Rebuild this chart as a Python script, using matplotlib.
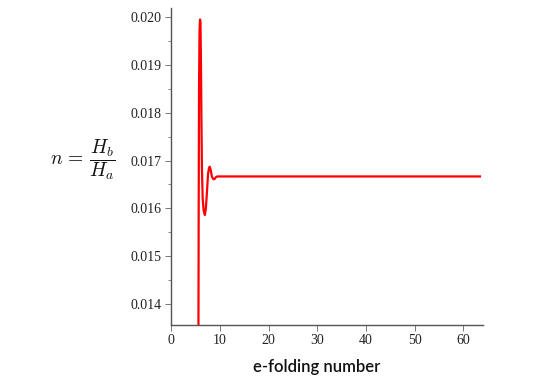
import matplotlib
matplotlib.use("Agg")
import matplotlib.pyplot as plt
from matplotlib.ticker import MultipleLocator, FormatStrFormatter

# e-folding number (x) and n = H_b/H_a (y)
efold = [5.62, 5.68, 5.75, 5.85, 5.95, 6.05, 6.15, 6.25, 6.35, 6.5, 6.7, 6.95,
         7.15, 7.35, 7.6, 7.8, 7.95, 8.15, 8.4, 8.7, 8.9, 9.2, 9.5, 63.6]
n_ratio = [0.0130, 0.0160, 0.0185, 0.0197, 0.01995, 0.0199, 0.0190, 0.0178,
           0.0168, 0.0162, 0.01595, 0.01586, 0.0160, 0.0163, 0.01672, 0.01685,
           0.01687, 0.0168, 0.01666, 0.01661, 0.01661, 0.01665, 0.016667, 0.016667]

xticks = [0, 10, 20, 30, 40, 50, 60]
yticks = [0.014, 0.015, 0.016, 0.017, 0.018, 0.019, 0.020]

plt.rcParams["mathtext.fontset"] = "cm"
fig = plt.figure(figsize=(5.4, 3.82), dpi=100)
ax = fig.add_axes([171/540, 1-325/382, (483-171)/540, (325-8)/382])

ax.plot(efold, n_ratio, color="#ff0000", lw=1.6, solid_capstyle="butt")
ax.set_xlim(0, 64)
ax.set_ylim(0.01356, 0.02019)
ax.set_xticks(xticks)
ax.set_yticks(yticks)
ax.yaxis.set_minor_locator(MultipleLocator(0.0005))
ax.yaxis.set_major_formatter(FormatStrFormatter("%.3f"))

for s in ["top", "right"]:
    ax.spines[s].set_visible(False)
for s in ["left", "bottom"]:
    ax.spines[s].set_color("#555555")
    ax.spines[s].set_linewidth(1.0)

ax.tick_params(axis="both", which="major", length=4.5, width=0.7, color="#777777",
               labelsize=10, labelcolor="#222222", pad=2)
ax.tick_params(axis="y", which="minor", length=2.2, width=0.6, color="#777777")
for lab in ax.get_xticklabels() + ax.get_yticklabels():
    lab.set_fontfamily("Liberation Serif")

fig.text(317/540, 1-367/382, "e-folding number", ha="center", va="center",
         fontsize=12, family="Lato", fontweight="semibold", color="#111111")
fig.text(83/540, 1-160/382, r"$n\, =\, \dfrac{H_b}{H_a}$", ha="center", va="center",
         fontsize=14, color="#111111")

fig.savefig("out.png", dpi=100)
